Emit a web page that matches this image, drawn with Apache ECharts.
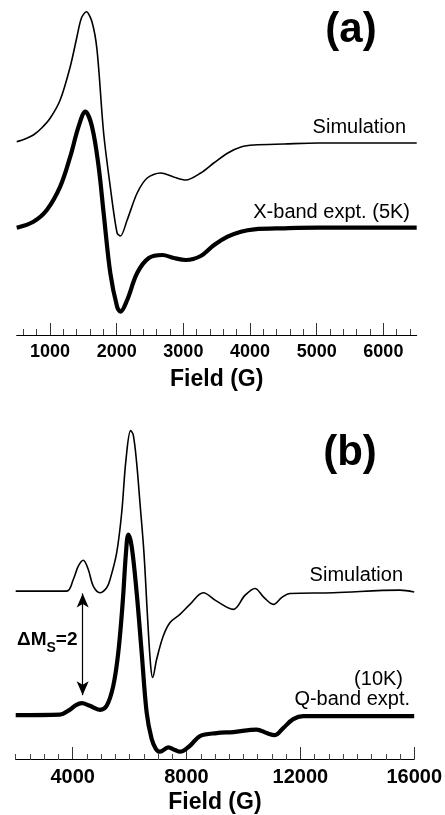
<!DOCTYPE html>
<html><head><meta charset="utf-8">
<script src="https://cdn.jsdelivr.net/npm/echarts@6/dist/echarts.min.js"></script>
<style>html,body{margin:0;padding:0;background:#fff}#c{width:445px;height:815px}</style>
</head><body><div id="c"></div>
<script>
// ---------- Panel (a): X-band ----------
const simAField = [500, 625, 750, 875, 1001, 1152, 1303, 1404, 1470, 1544, 1630, 1705, 1804, 1904, 2006, 2056, 2157, 2307, 2458, 2658, 2854, 3035, 3260, 3456, 3667, 3863, 4059, 4511, 5023, 6500];
const simAIntensity = [193.3, 196, 200, 207, 216.7, 235, 268.3, 298.3, 316.7, 323.3, 313, 285, 202, 148, 102, 99, 115, 142, 157, 162, 158, 155, 162, 172, 182, 188, 190, 191, 192, 192];
const expAField = [500, 750, 952, 1152, 1303, 1428, 1529, 1630, 1729, 1804, 1904, 2006, 2056, 2157, 2307, 2482, 2684, 2858, 3035, 3260, 3461, 3663, 3863, 4063, 4511, 5018, 6500];
const expAIntensity = [107.3, 113.3, 125, 148.3, 178.3, 208.3, 223.3, 208.3, 168.3, 122, 62, 28.3, 23.3, 35, 62, 77, 80, 77, 75, 79, 90, 98.3, 103.3, 105.7, 106.7, 107.3, 107.3];
const majorTicksA = [1000, 2000, 3000, 4000, 5000, 6000];
const minorTicksA = [600, 800, 1200, 1400, 1600, 1800, 2200, 2400, 2600, 2800, 3200, 3400, 3600, 3800, 4200, 4400, 4600, 4800, 5200, 5400, 5600, 5800, 6200, 6400];

// ---------- Panel (b): Q-band ----------
const simBField = [2000, 3791, 4023, 4199, 4374, 4550, 4726, 4961, 5196, 5315, 5547, 5723, 5874, 6039, 6130, 6250, 6366, 6506, 6636, 6742, 6812, 6952, 7184, 7417, 7769, 8120, 8589, 9060, 9643, 10054, 10405, 10721, 11055, 11353, 11635, 13155, 15498, 16000];
const simBIntensity = [168.3, 168.3, 180, 193.3, 199.3, 190, 173.3, 166.7, 171.7, 180, 206.7, 246.7, 300, 329.3, 325, 296.7, 256.7, 206.7, 140, 93.3, 81.7, 100, 123.3, 136.7, 145, 155, 166.7, 158.3, 150, 164, 171, 162, 155, 162, 166, 166.7, 169.3, 167.5];
const expBField = [2000, 3556, 3907, 4118, 4318, 4609, 4961, 5196, 5428, 5604, 5758, 5874, 5955, 6074, 6250, 6426, 6601, 6777, 6928, 7068, 7360, 7595, 7771, 8122, 8473, 9060, 9643, 10465, 10816, 11108, 11399, 11750, 12101, 13155, 16000];
const expBIntensity = [44, 44.5, 49.5, 54, 56, 53.3, 49.3, 53.3, 73.3, 106.7, 156.7, 206.7, 225, 213.3, 166.7, 106.7, 46.7, 20, 10, 7.3, 11.7, 9, 7.3, 13.3, 23, 26, 27, 29.5, 26, 24, 31, 40, 43, 43, 43];
const majorTicksB = [4000, 8000, 12000, 16000];
const minorTicksB = [2000, 2500, 3000, 3500, 4500, 5000, 5500, 6000, 6500, 7000, 7500, 8500, 9000, 9500, 10000, 10500, 11000, 11500, 12500, 13000, 13500, 14000, 14500, 15000, 15500];
// ΔMs=2 arrow: field position and intensity span
const arrowField = 4353;
const arrowSpan = [166, 64];

const FONT = 'Liberation Sans, Arial, sans-serif';
const zip = (xs, ys) => xs.map((x, i) => [x, ys[i]]);

const chart = echarts.init(document.getElementById('c'), null, {renderer: 'canvas'});

function mainX(gi, min, max, ticks, labelSize, gap) {
  return {
    type: 'value', gridIndex: gi, min: min, max: max, position: 'bottom',
    splitLine: {show: false},
    axisLine: {show: true, onZero: false, lineStyle: {color: '#000', width: 1}},
    axisTick: {show: true, inside: true, length: 12, customValues: ticks, lineStyle: {color: '#333', width: 1}},
    axisLabel: {show: true, customValues: ticks, margin: 8, color: '#000', fontSize: labelSize, fontWeight: 'bold', fontFamily: FONT,
      formatter: function (v) { return String(v); }},
    name: 'Field (G)', nameLocation: 'middle', nameGap: gap,
    nameTextStyle: {color: '#000', fontSize: 23, fontWeight: 'bold', fontFamily: FONT}
  };
}
function minorX(gi, min, max, ticks) {
  return {
    type: 'value', gridIndex: gi, min: min, max: max, position: 'bottom',
    splitLine: {show: false},
    axisLine: {show: false, onZero: false},
    axisTick: {show: true, inside: true, length: 6, customValues: ticks, lineStyle: {color: '#444', width: 1}},
    axisLabel: {show: false}
  };
}
function hiddenY(gi, max) {
  return {type: 'value', gridIndex: gi, min: 0, max: max, show: false, splitLine: {show: false}};
}

const gridA = {left: 16.7, top: 0, width: 400, height: 335};
const gridB = {left: 15.7, top: 390, width: 398.6, height: 370};

chart.setOption({
  animation: false,
  backgroundColor: '#fff',
  grid: [gridA, Object.assign({}, gridA), gridB, Object.assign({}, gridB)],
  xAxis: [
    mainX(0, 500, 6500, majorTicksA, 18, 33),
    minorX(1, 500, 6500, minorTicksA),
    mainX(2, 2000, 16000, majorTicksB, 20, 32),
    minorX(3, 2000, 16000, minorTicksB)
  ],
  yAxis: [hiddenY(0, 335), hiddenY(1, 335), hiddenY(2, 370), hiddenY(3, 370)],
  series: [
    {name: 'Simulation (X)', type: 'line', xAxisIndex: 0, yAxisIndex: 0, data: zip(simAField, simAIntensity),
     showSymbol: false, smooth: 0.3, lineStyle: {color: '#000', width: 1.6}},
    {name: 'X-band expt. (5K)', type: 'line', xAxisIndex: 0, yAxisIndex: 0, data: zip(expAField, expAIntensity),
     showSymbol: false, smooth: 0.35, lineStyle: {color: '#000', width: 4.2}},
    {name: 'Simulation (Q)', type: 'line', xAxisIndex: 2, yAxisIndex: 2, data: zip(simBField, simBIntensity),
     showSymbol: false, smooth: 0.35, lineStyle: {color: '#000', width: 1.6},
     markLine: {silent: true, animation: false, symbol: ['arrow', 'arrow'], symbolSize: [9, 14],
       label: {show: false}, lineStyle: {color: '#000', width: 1.2, type: 'solid'},
       data: [[{coord: [arrowField, arrowSpan[0]]}, {coord: [arrowField, arrowSpan[1]]}]]}},
    {name: 'Q-band expt. (10K)', type: 'line', xAxisIndex: 2, yAxisIndex: 2, data: zip(expBField, expBIntensity),
     showSymbol: false, smooth: 0.35, lineStyle: {color: '#000', width: 4.2}}
  ],
  graphic: [
    {type: 'text', x: 351, y: 30, style: {text: '(a)', font: 'bold 42px ' + FONT, fill: '#000', align: 'center', verticalAlign: 'middle'}},
    {type: 'text', x: 350, y: 453, style: {text: '(b)', font: 'bold 42px ' + FONT, fill: '#000', align: 'center', verticalAlign: 'middle'}},
    {type: 'text', x: 406, y: 127.5, style: {text: 'Simulation', font: '20px ' + FONT, fill: '#000', align: 'right', verticalAlign: 'middle'}},
    {type: 'text', x: 410, y: 212, style: {text: 'X-band expt. (5K)', font: '20px ' + FONT, fill: '#000', align: 'right', verticalAlign: 'middle'}},
    {type: 'text', x: 403, y: 575.6, style: {text: 'Simulation', font: '20px ' + FONT, fill: '#000', align: 'right', verticalAlign: 'middle'}},
    {type: 'text', x: 403, y: 679.8, style: {text: '(10K)', font: '20px ' + FONT, fill: '#000', align: 'right', verticalAlign: 'middle'}},
    {type: 'text', x: 410, y: 699.8, style: {text: 'Q-band expt.', font: '20px ' + FONT, fill: '#000', align: 'right', verticalAlign: 'middle'}},
    {type: 'text', x: 17, y: 640, style: {
      text: '{b|ΔM}{s|S}{b|=2}', align: 'left', verticalAlign: 'middle',
      rich: {
        b: {fontSize: 19, fontWeight: 'bold', fontFamily: FONT, fill: '#000', color: '#000'},
        s: {fontSize: 14, fontWeight: 'bold', fontFamily: FONT, fill: '#000', color: '#000', padding: [16, 0, 0, 0]}
      }}}
  ]
});
</script></body></html>
